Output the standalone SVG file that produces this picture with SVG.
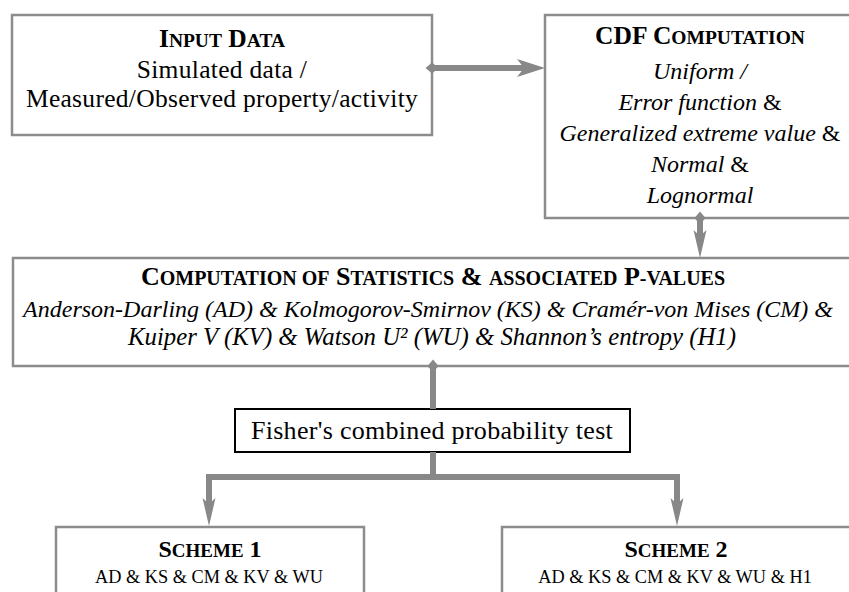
<svg xmlns="http://www.w3.org/2000/svg" width="849" height="592" viewBox="0 0 849 592">
<style>
.box{fill:#fff;stroke:#8c8c8c;stroke-width:2.5}
.fbox{fill:#fff;stroke:#000;stroke-width:2}
text{font-family:'Liberation Serif',serif;font-size:25.5px;fill:#000;text-anchor:middle}
.b{font-weight:bold}
.sc{font-size:19.5px}
.sc2{font-size:20px}
.i{font-style:italic}
.ci{font-size:24px}
.s{font-size:18.3px}
.st{font-size:24px}
.stc{font-size:19px}
.ls{letter-spacing:0.3px}
.conn{stroke:#888;stroke-width:6;fill:none;stroke-linejoin:miter}
</style>
<defs>
<marker id="dia" markerUnits="userSpaceOnUse" viewBox="-8 -8 16 16" refX="0" refY="0" markerWidth="16" markerHeight="16" orient="auto">
<path d="M-6.5,0 L0,-5.5 L6.5,0 L0,5.5 Z" fill="#888"/>
</marker>
<marker id="arrW" markerUnits="userSpaceOnUse" viewBox="0 -10 30 20" refX="12" refY="0" markerWidth="30" markerHeight="20" orient="auto">
<path d="M0,-9 L28,0 L0,9 L7,0 Z" fill="#888"/>
</marker>
<marker id="arrN" markerUnits="userSpaceOnUse" viewBox="0 -10 30 20" refX="12" refY="0" markerWidth="30" markerHeight="20" orient="auto">
<path d="M0,-6.5 L28,0 L0,6.5 L6,0 Z" fill="#888"/>
</marker>
</defs>

<g id="input-data">
<rect class="box" x="12" y="15" width="420" height="120"/>
<text class="b" x="222" y="47">I<tspan class="sc">NPUT</tspan> D<tspan class="sc">ATA</tspan></text>
<text class="ls" x="222" y="78">Simulated data /</text>
<text class="ls" x="222" y="107">Measured/Observed property/activity</text>
</g>

<g id="cdf-computation">
<rect class="box" x="545" y="15" width="320" height="203"/>
<text class="b" x="700" y="44">CDF C<tspan class="sc">OMPUTATION</tspan></text>
<text class="i ci" x="700" y="79">Uniform /</text>
<text class="ci" x="700" y="110"><tspan class="i">Error function</tspan> &amp;</text>
<text class="ci" x="700" y="141"><tspan class="i">Generalized extreme value</tspan> &amp;</text>
<text class="ci" x="700" y="172"><tspan class="i">Normal</tspan> &amp;</text>
<text class="i ci" x="700" y="203">Lognormal</text>
</g>

<g id="statistics">
<rect class="box" x="13" y="258" width="852" height="108"/>
<text class="b" x="433" y="285" style="font-size:26px">C<tspan class="sc2">OMPUTATION OF</tspan> S<tspan class="sc2">TATISTICS</tspan> &amp; <tspan class="sc2">ASSOCIATED</tspan> P<tspan class="sc2">-VALUES</tspan></text>
<text class="i" x="428" y="317" style="font-size:24px">Anderson-Darling (AD) &amp; Kolmogorov-Smirnov (KS) &amp; Cramér-von Mises (CM) &amp;</text>
<text class="i" x="432" y="345" style="font-size:24.8px">Kuiper V (KV) &amp; Watson U² (WU) &amp; Shannon’s entropy (H1)</text>
</g>

<g id="fisher">
<rect class="fbox" x="235" y="409" width="395" height="43"/>
<text class="ls" x="432" y="439" style="font-size:26px">Fisher's combined probability test</text>
</g>

<g id="scheme-1">
<rect class="box" x="56" y="527" width="308" height="100"/>
<text class="b st" x="210" y="557">S<tspan class="stc">CHEME</tspan> 1</text>
<text class="s" x="209" y="583">AD &amp; KS &amp; CM &amp; KV &amp; WU</text>
</g>

<g id="scheme-2">
<rect class="box" x="502" y="527" width="360" height="100"/>
<text class="b st" x="676" y="557">S<tspan class="stc">CHEME</tspan> 2</text>
<text class="s" x="675" y="583">AD &amp; KS &amp; CM &amp; KV &amp; WU &amp; H1</text>
</g>

<g id="connectors">
<path class="conn" d="M432,68 H529" marker-start="url(#dia)" marker-end="url(#arrW)"/>
<path class="conn" d="M700,218 V242" marker-start="url(#dia)" marker-end="url(#arrN)"/>
<path class="conn" d="M433,366 V409" marker-start="url(#dia)"/>
<path class="conn" d="M433,452 V477 H209 V510" marker-end="url(#arrN)"/>
<path class="conn" d="M433,477 H677 V510" marker-end="url(#arrN)"/>
</g>
</svg>
